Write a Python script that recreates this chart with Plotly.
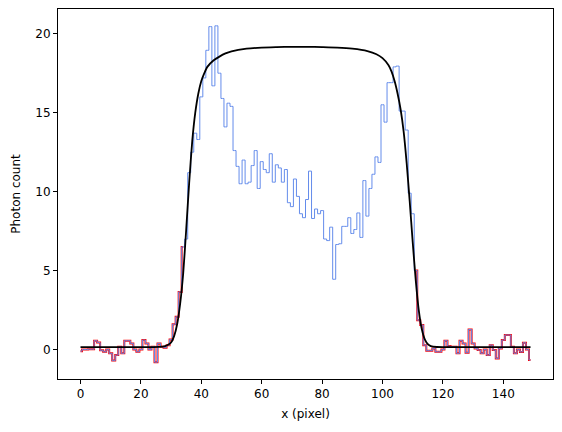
import plotly.graph_objects as go

# pixel index (bin centres)
x_pix = list(range(150))

# photon counts per pixel
counts = [
    -0.10, 0.00, 0.00, 0.02, 0.02, 0.56, 0.45, -0.05, -0.14, 0.00,
    -0.24, -0.70, -0.35, 0.18, -0.24, 0.56, 0.56, 0.39, 0.00, -0.14,
    0.00, 0.60, 0.39, 0.00, 0.18, -0.80, 0.39, 0.18, 0.12, 0.28,
    0.63, 1.60, 2.07, 3.65, 6.50, 7.00, 11.2, 12.5, 13.7, 13.3,
    16.0, 17.2, 18.95, 20.45, 16.7, 20.5, 17.5, 15.9, 14.1, 15.6,
    15.4, 12.6, 11.6, 10.5, 12.0, 10.5, 10.6, 11.65, 12.6, 10.2,
    11.9, 11.4, 11.2, 12.4, 10.6, 11.7, 11.5, 10.6, 11.4, 9.3,
    9.05, 10.8, 9.7, 8.6, 8.35, 9.5, 11.3, 8.3, 8.9, 8.6,
    8.8, 7.0, 6.9, 7.75, 4.45, 6.65, 6.7, 7.8, 7.8, 8.35,
    7.35, 7.6, 8.65, 7.1, 10.7, 8.45, 10.2, 11.1, 12.2, 11.85,
    15.5, 14.4, 16.9, 16.9, 17.9, 17.95, 15.1, 15.1, 13.9, 9.9,
    8.6, 5.0, 1.86, 1.55, 0.28, -0.07, -0.07, 0.07, -0.14, -0.14,
    0.00, 0.56, 0.22, 0.18, 0.18, -0.24, 0.56, 0.39, -0.20, 1.27,
    0.39, 0.07, -0.03, -0.24, 0.00, -0.35, 0.28, -0.03, -0.56, 0.07,
    0.60, 0.92, 0.92, 0.18, -0.24, 0.00, -0.15, 0.43, 0.00, -0.66,
]

# index ranges drawn in red (outside the object)
left_end = 34
right_start = 111

# fitted model curve
curve_x = [0, 10, 20, 26, 28, 29, 30, 31, 32, 33, 34, 35, 36, 37, 38, 39, 40,
           41, 42, 44, 46, 48, 50, 55, 60, 65, 70, 75, 80, 85, 90, 95, 98,
           100, 102, 103, 104, 105, 106, 107, 108, 109, 110, 111, 112, 113,
           114, 115, 116, 118, 120, 130, 140, 149]
curve_y = [0.15, 0.15, 0.15, 0.17, 0.22, 0.30, 0.45, 0.85, 1.6, 2.9, 4.8, 7.6,
           10.6, 13.2, 15.0, 16.2, 17.0, 17.5, 17.9, 18.3, 18.55, 18.75, 18.88,
           19.05, 19.12, 19.15, 19.17, 19.17, 19.15, 19.12, 19.05, 18.9, 18.7,
           18.45, 18.0, 17.6, 17.0, 16.2, 15.2, 13.8, 11.8, 9.4, 6.8, 4.4, 2.5,
           1.3, 0.65, 0.35, 0.22, 0.16, 0.15, 0.15, 0.15, 0.15]

x_ticks = [0, 20, 40, 60, 80, 100, 120, 140]
y_ticks = [0, 5, 10, 15, 20]

fig = go.Figure()

# red outside segments (thicker, underneath)
fig.add_trace(go.Scatter(x=x_pix[:left_end + 1], y=counts[:left_end + 1],
                         mode="lines", line=dict(color="red", width=2, shape="hvh"),
                         hoverinfo="skip", showlegend=False))
fig.add_trace(go.Scatter(x=x_pix[right_start:], y=counts[right_start:],
                         mode="lines", line=dict(color="red", width=2, shape="hvh"),
                         hoverinfo="skip", showlegend=False))
# full step histogram in blue
fig.add_trace(go.Scatter(x=x_pix, y=counts, mode="lines",
                         line=dict(color="rgb(100,140,235)", width=1, shape="hvh"),
                         showlegend=False))
# model
fig.add_trace(go.Scatter(x=curve_x, y=curve_y, mode="lines",
                         line=dict(color="black", width=1.8, shape="spline", smoothing=0.6),
                         showlegend=False))

allv = counts + curve_y
ymin, ymax = min(allv), max(allv)
ypad = 0.05 * (ymax - ymin)
xmin, xmax = min(x_pix), max(x_pix)
xpad = 0.05 * (xmax - xmin)

font = dict(family="DejaVu Sans", size=12, color="black")
fig.update_layout(
    width=562, height=432,
    margin=dict(l=58, r=9, t=9, b=53),
    paper_bgcolor="white", plot_bgcolor="white",
    font=font,
    xaxis=dict(range=[xmin - xpad, xmax + xpad], tickvals=x_ticks,
               showline=True, mirror=True, linecolor="black", linewidth=1,
               ticks="outside", ticklen=4, tickwidth=1, tickcolor="black",
               showgrid=False, zeroline=False,
               title=dict(text="x (pixel)", standoff=9, font=font)),
    yaxis=dict(range=[ymin - ypad, ymax + ypad], tickvals=y_ticks,
               showline=True, mirror=True, linecolor="black", linewidth=1,
               ticks="outside", ticklen=4, tickwidth=1, tickcolor="black",
               showgrid=False, zeroline=False,
               title=dict(text="Photon count", standoff=12, font=font)),
)

fig.write_html("out.html")
